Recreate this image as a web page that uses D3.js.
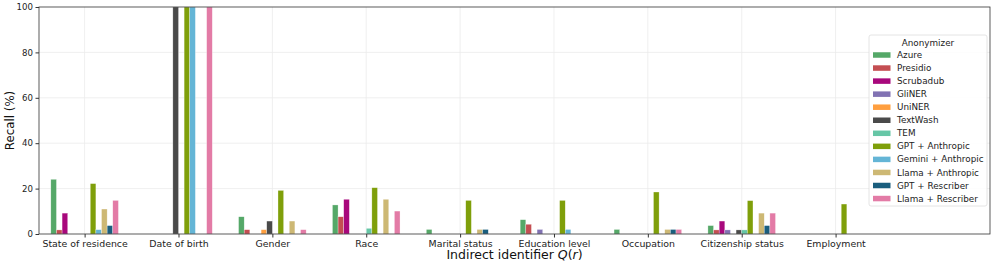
<!DOCTYPE html>
<html>
<head>
<meta charset="utf-8">
<script src="https://cdn.jsdelivr.net/npm/d3@7"></script>
<style>
	body { margin: 0; background: #fff; }
	svg { font-family: "DejaVu Sans", sans-serif; }
	.axis line { stroke: #333; }
	.axis text { fill: #222; font-family: "DejaVu Sans", sans-serif; }
	.axis--x text { font-size: 9.4px; }
	.axis--y text { font-size: 8.6px; }
	.grid line { stroke: #ebebeb; stroke-width: 0.8; }
</style>
</head>
<body>
<svg id="chart"></svg>
<script>
/* Data (recall, %) */

var categories = ["State of residence", "Date of birth", "Gender", "Race", "Marital status",
	"Education level", "Occupation", "Citizenship status", "Employment"];

var anonymizers = ["Azure", "Presidio", "Scrubadub", "GliNER", "UniNER", "TextWash", "TEM",
	"GPT + Anthropic", "Gemini + Anthropic", "Llama + Anthropic", "GPT + Rescriber", "Llama + Rescriber"];

var colors = ["#55a868", "#c44e52", "#a8087c", "#8172b3", "#ff9f3f", "#4a4a4a", "#66c6a6",
	"#7f9f0a", "#64b5d6", "#cdb874", "#1a5e7e", "#e37ba6"];

// one array per anonymizer, in category order
var azure      = [24.1, 0,   7.6, 12.8, 2.0, 6.3, 2.0, 3.7, 0];
var presidio   = [1.8,  0,   1.9, 7.6,  0,   4.3, 0,   1.8, 0];
var scrubadub  = [9.2,  0,   0,   15.3, 0,   0,   0,   5.7, 0];
var gliner     = [0,    0,   0,   0,    0,   2.0, 0,   1.8, 0];
var uniner     = [0,    0,   1.9, 0,    0,   0,   0,   0,   0];
var textwash   = [0,    100, 5.7, 0,    0,   0,   0,   1.8, 0];
var tem        = [0,    0,   0,   2.5,  0,   0,   0,   1.8, 0];
var gptAnth    = [22.2, 100, 19.2, 20.4, 14.8, 14.8, 18.5, 14.7, 13.2];
var geminiAnth = [1.9,  100, 0,   0,    0,   2.0, 0,   0,   0];
var llamaAnth  = [11.0, 0,   5.7, 15.3, 2.0, 0,   2.0, 9.2, 0];
var gptResc    = [3.7,  0,   0,   0,    2.0, 0,   2.0, 3.7, 0];
var llamaResc  = [14.8, 100, 1.9, 10.1, 0,   0,   2.0, 9.2, 0];

var series = [azure, presidio, scrubadub, gliner, uniner, textwash, tem,
	gptAnth, geminiAnth, llamaAnth, gptResc, llamaResc];

var yTicks = [0, 20, 40, 60, 80, 100];

/* Layout */

var W = 997, H = 267;
var margin = {top: 7, right: 7, bottom: 33, left: 39};
var width = W - margin.left - margin.right,
	height = H - margin.top - margin.bottom;

var svg = d3.select("#chart")
	.attr("width", W)
	.attr("height", H);

var g = svg.append("g")
	.attr("transform", "translate(" + margin.left + "," + margin.top + ")");

// category index -> px, extra room on the right for the legend
var x = d3.scaleLinear()
	.domain([-0.486, 9.645])
	.range([0, width]);

var y = d3.scaleLinear()
	.domain([0, 100])
	.range([height, 0]);

var barW = 0.06;

/* Grid */

g.append("g").attr("class", "grid")
	.selectAll("line").data(yTicks.slice(1, -1))
	.enter().append("line")
	.attr("x1", 0).attr("x2", width)
	.attr("y1", function(d){ return y(d); })
	.attr("y2", function(d){ return y(d); });

g.append("g").attr("class", "grid")
	.selectAll("line").data(d3.range(categories.length))
	.enter().append("line")
	.attr("x1", function(d){ return x(d); })
	.attr("x2", function(d){ return x(d); })
	.attr("y1", 0).attr("y2", height);

/* Bars */

series.forEach(function(vals, si) {
	g.append("g")
		.selectAll("rect")
		.data(vals.map(function(v, i){ return {v: v, i: i}; }).filter(function(d){ return d.v > 0; }))
		.enter().append("rect")
		.attr("x", function(d){ return x(d.i + (si - 6) * barW); })
		.attr("width", x(barW) - x(0))
		.attr("y", function(d){ return y(d.v); })
		.attr("height", function(d){ return y(0) - y(d.v); })
		.attr("fill", colors[si])
		.attr("stroke", "#fff")
		.attr("stroke-opacity", 0.6)
		.attr("stroke-width", 0.5);
});

/* Axes */

g.append("g")
	.attr("class", "axis axis--x")
	.attr("transform", "translate(0," + height + ")")
	.call(d3.axisBottom(x)
		.tickValues(d3.range(categories.length))
		.tickFormat(function(d){ return categories[d]; })
		.tickSize(3.5).tickPadding(2.5).tickSizeOuter(0));

g.append("g")
	.attr("class", "axis axis--y")
	.call(d3.axisLeft(y).tickValues(yTicks).tickSize(3.5).tickPadding(2.5).tickSizeOuter(0));

g.selectAll(".axis path").remove();

g.append("rect")
	.attr("width", width).attr("height", height)
	.attr("fill", "none").attr("stroke", "#333").attr("stroke-width", 0.8);

svg.append("text")
	.attr("transform", "translate(14," + (margin.top + height / 2) + ") rotate(-90)")
	.attr("text-anchor", "middle")
	.attr("font-size", "11.8px")
	.attr("fill", "#111")
	.text("Recall (%)");

var xl = svg.append("text")
	.attr("x", margin.left + width / 2)
	.attr("y", 259)
	.attr("text-anchor", "middle")
	.attr("font-size", "12.5px")
	.attr("fill", "#111");
xl.append("tspan").text("Indirect identifier ");
xl.append("tspan").attr("font-style", "italic").text("Q");
xl.append("tspan").text("(");
xl.append("tspan").attr("font-style", "italic").text("r");
xl.append("tspan").text(")");

/* Legend */

var lg = svg.append("g").attr("transform", "translate(869,35)");

lg.append("rect")
	.attr("width", 118).attr("height", 171)
	.attr("rx", 2)
	.attr("fill", "#fff").attr("fill-opacity", 0.85)
	.attr("stroke", "#ddd").attr("stroke-width", 0.8);

lg.append("text")
	.attr("x", 59).attr("y", 11)
	.attr("text-anchor", "middle")
	.attr("font-size", "8.8px")
	.attr("fill", "#222")
	.text("Anonymizer");

var item = lg.selectAll(".item").data(anonymizers)
	.enter().append("g")
	.attr("class", "item")
	.attr("transform", function(d, i){ return "translate(4," + (20 + i * 13.05) + ")"; });

item.append("rect")
	.attr("width", 17.5).attr("height", 5.5)
	.attr("y", -2.75)
	.attr("fill", function(d, i){ return colors[i]; });

item.append("text")
	.attr("x", 24).attr("dy", "0.35em")
	.attr("font-size", "8.8px")
	.attr("fill", "#222")
	.text(function(d){ return d; });
</script>
</body>
</html>
